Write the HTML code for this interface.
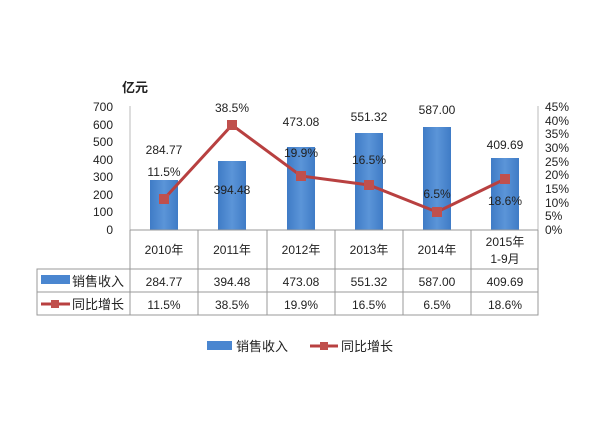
<!DOCTYPE html>
<html><head><meta charset="utf-8"><style>
body{margin:0;background:#fff}
svg text{font-family:"Liberation Sans","Noto Sans CJK SC",sans-serif;fill:#222}
</style></head><body>
<svg width="600" height="440" viewBox="0 0 600 440" xmlns="http://www.w3.org/2000/svg">
<defs><linearGradient id="g" x1="0" x2="1"><stop offset="0" stop-color="#3f7bc6"/><stop offset="0.5" stop-color="#5b95d8"/><stop offset="1" stop-color="#3f7bc6"/></linearGradient></defs>
<text x="122" y="92" font-size="13" font-weight="bold">亿元</text>
<g font-size="12" text-anchor="end">
<text x="113" y="111">700</text><text x="113" y="129">600</text><text x="113" y="146">500</text><text x="113" y="164">400</text><text x="113" y="181">300</text><text x="113" y="199">200</text><text x="113" y="216">100</text><text x="113" y="234">0</text>
</g>
<g font-size="12">
<text x="545" y="111">45%</text><text x="545" y="125">40%</text><text x="545" y="138">35%</text><text x="545" y="152">30%</text><text x="545" y="166">25%</text><text x="545" y="179">20%</text><text x="545" y="193">15%</text><text x="545" y="207">10%</text><text x="545" y="220">5%</text><text x="545" y="234">0%</text>
</g>
<line x1="130" y1="106" x2="130" y2="230" stroke="#bbb"/>
<line x1="538" y1="106" x2="538" y2="230" stroke="#bbb"/>
<g fill="url(#g)">
<rect x="150" y="180" width="28" height="50"/>
<rect x="218" y="161" width="28" height="69"/>
<rect x="287" y="147" width="28" height="83"/>
<rect x="355" y="133" width="28" height="97"/>
<rect x="423" y="127" width="28" height="103"/>
<rect x="491" y="158" width="28" height="72"/>
</g>
<polyline points="164,199 232,125 301,176 369,185 437,212 505,179" fill="none" stroke="#b84040" stroke-width="3"/>
<g fill="#c0504d">
<rect x="159" y="194" width="10" height="10"/><rect x="227" y="120" width="10" height="10"/><rect x="296" y="171" width="10" height="10"/><rect x="364" y="180" width="10" height="10"/><rect x="432" y="207" width="10" height="10"/><rect x="500" y="174" width="10" height="10"/>
</g>
<g font-size="12" text-anchor="middle">
<text x="164" y="154">284.77</text><text x="232" y="194">394.48</text><text x="301" y="126">473.08</text><text x="369" y="121">551.32</text><text x="437" y="114">587.00</text><text x="505" y="149">409.69</text>
<text x="164" y="176">11.5%</text><text x="232" y="112">38.5%</text><text x="301" y="157">19.9%</text><text x="369" y="164">16.5%</text><text x="437" y="198">6.5%</text><text x="505" y="205">18.6%</text>
</g>
<g stroke="#999" fill="none">
<line x1="130" y1="230" x2="538" y2="230"/>
<rect x="37" y="269" width="501" height="46"/>
<line x1="37" y1="292" x2="538" y2="292"/>
<line x1="130" y1="230" x2="130" y2="315"/><line x1="198" y1="230" x2="198" y2="315"/><line x1="267" y1="230" x2="267" y2="315"/><line x1="335" y1="230" x2="335" y2="315"/><line x1="403" y1="230" x2="403" y2="315"/><line x1="471" y1="230" x2="471" y2="315"/><line x1="538" y1="230" x2="538" y2="315"/>
</g>
<g font-size="12" text-anchor="middle">
<text x="164" y="254">2010年</text><text x="232" y="254">2011年</text><text x="301" y="254">2012年</text><text x="369" y="254">2013年</text><text x="437" y="254">2014年</text><text x="505" y="246">2015年</text><text x="505" y="263">1-9月</text>
<text x="164" y="286">284.77</text><text x="232" y="286">394.48</text><text x="301" y="286">473.08</text><text x="369" y="286">551.32</text><text x="437" y="286">587.00</text><text x="505" y="286">409.69</text>
<text x="164" y="309">11.5%</text><text x="232" y="309">38.5%</text><text x="301" y="309">19.9%</text><text x="369" y="309">16.5%</text><text x="437" y="309">6.5%</text><text x="505" y="309">18.6%</text>
</g>
<rect x="41" y="275" width="29" height="9" fill="#4a86d0"/>
<text x="72" y="286" font-size="13">销售收入</text>
<line x1="41" y1="304" x2="70" y2="304" stroke="#b84040" stroke-width="3"/><rect x="51" y="300" width="8" height="8" fill="#c0504d"/>
<text x="72" y="309" font-size="13">同比增长</text>
<rect x="207" y="341" width="25" height="9" fill="#4a86d0"/>
<text x="236" y="351" font-size="13">销售收入</text>
<line x1="310" y1="346" x2="338" y2="346" stroke="#b84040" stroke-width="3"/><rect x="320" y="342" width="8" height="8" fill="#c0504d"/>
<text x="341" y="351" font-size="13">同比增长</text>
</svg>
</body></html>
